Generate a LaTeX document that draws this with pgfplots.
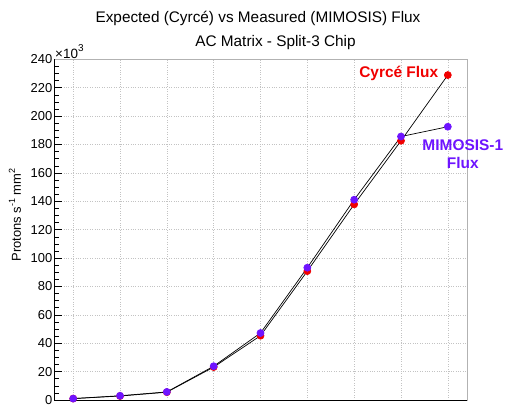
\documentclass[border=0pt]{standalone}
\usepackage{pgfplots}
\pgfplotsset{compat=1.18}
\usepackage{fontspec}
\setmainfont{Liberation Sans}
\definecolor{cyrce}{RGB}{240,0,0}
\definecolor{mimo}{RGB}{110,20,255}
\definecolor{gridc}{RGB}{195,195,195}
\begin{document}
\begin{tikzpicture}[x=1bp,y=1bp]
\path[use as bounding box] (0,0) rectangle (505,406);
\node[font=\fontsize{15.4}{17}\selectfont] at (258,388) {Expected (Cyrcé) vs Measured (MIMOSIS) Flux};
\node[font=\fontsize{15.4}{17}\selectfont] at (275.5,363.5) {AC Matrix - Split-3 Chip};
\node[rotate=90,font=\fontsize{13}{15}\selectfont] at (15,191) {Protons s\raisebox{0.45em}{\fontsize{9}{10}\selectfont -1} mm\raisebox{0.45em}{\fontsize{9}{10}\selectfont 2}};
\node[anchor=base west,inner sep=0,font=\fontsize{13.5}{15}\selectfont] at (55,348) {×10\raisebox{0.45em}{\fontsize{10}{11}\selectfont 3}};
\begin{axis}[
  at={(54bp,6bp)}, anchor=south west,
  scale only axis, width=413bp, height=340.7bp,
  xmin=-0.41, xmax=8.41, ymin=0, ymax=240,
  xtick={0,1,2,3,4,5,6,7,8}, xticklabels={}, 
  ytick={0,20,...,240}, minor y tick num=3,
  major tick length=8bp, minor tick length=4.5bp,
  xtick style={draw=none},
  ytick pos=left, tick align=inside,
  tick style={black, line width=0.5bp},
  grid=major,
  major grid style={gridc, dotted, line width=0.6bp},
  axis line style={gray!60, line width=0.8bp},
  /pgf/number format/assume math mode=true,
  yticklabel style={font=\fontsize{13}{15}\selectfont, inner sep=1.5bp},
  clip=false,
]
\addplot[black, line width=0.7bp, mark=*, mark size=3.5bp, mark options={draw=cyrce, fill=cyrce}]
  coordinates {(0,1.0) (1,2.8) (2,5.5) (3,23.2) (4,45.3) (5,90.8) (6,137.8) (7,182.6) (8,228.9)};
\addplot[black, line width=0.7bp, mark=*, mark size=3.5bp, mark options={draw=mimo, fill=mimo}]
  coordinates {(0,1.0) (1,3.0) (2,5.7) (3,23.8) (4,47.2) (5,93.2) (6,141.1) (7,185.6) (8,192.5)};
\draw[black, line width=0.9bp] (rel axis cs:0,1) -- (rel axis cs:0,0) -- (rel axis cs:1,0);
\node[text=cyrce, font=\bfseries\fontsize{15.5}{17}\selectfont, anchor=east, inner sep=0] at (axis cs:7.8,230) {Cyrcé Flux};
\node[text=mimo, font=\bfseries\fontsize{15.5}{17}\selectfont, align=center, inner sep=0] at (axis cs:8.32,173) {MIMOSIS-1\\[1.5bp]Flux};
\end{axis}
\end{tikzpicture}
\end{document}
